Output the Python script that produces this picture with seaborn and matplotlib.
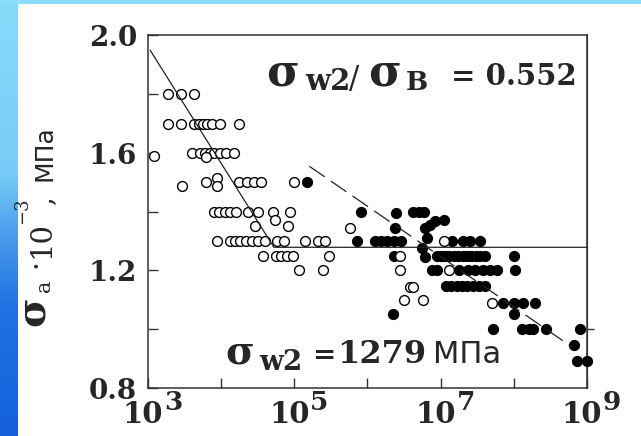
import numpy as np
import pandas as pd
import matplotlib
matplotlib.use("Agg")
import matplotlib.pyplot as plt
from matplotlib.transforms import ScaledTranslation
import seaborn as sns

# ---- data: fatigue tests, cycles to failure N vs. stress amplitude (x10^3 MPa)
open_n = [1.9e3, 2.8e3, 4.2e3,
          1.9e3, 2.8e3, 4.2e3, 5.0e3, 5.6e3, 6.5e3, 7.6e3, 9.5e3, 1.75e4,
          1.2e3,
          4.0e3, 5.1e3, 6.0e3, 7.1e3, 8.1e3, 9.5e3, 1.17e4, 1.5e4,
          6.3e3,
          6.3e3, 1.75e4, 2.25e4, 2.8e4, 3.55e4, 1.0e5,
          8.7e3,
          2.95e3, 8.7e3,
          7.9e3, 9.3e3, 1.12e4, 1.3e4, 1.6e4, 2.3e4, 3.2e4, 5.1e4, 8.7e4,
          5.4e4,
          2.9e4, 8.1e4,
          5.8e5,
          8.9e3, 1.3e4, 1.55e4, 1.8e4, 2.2e4, 2.6e4, 3.2e4, 4.0e4, 5.8e4, 7.2e4,
          1.4e5, 2.1e5, 2.6e5,
          1.1e7,
          3.7e4, 5.6e4, 6.6e4, 7.9e4, 9.5e4, 3.0e5, 2.75e6,
          1.17e5, 2.5e5, 2.75e6, 1.3e7,
          3.8e6, 4.2e6,
          3.2e6, 5.8e6,
          5.1e7]
open_s = [1.80, 1.80, 1.80,
          1.70, 1.70, 1.70, 1.70, 1.70, 1.70, 1.70, 1.70, 1.70,
          1.59,
          1.60, 1.60, 1.60, 1.60, 1.60, 1.60, 1.60, 1.60,
          1.585,
          1.50, 1.50, 1.50, 1.50, 1.50, 1.50,
          1.515,
          1.486, 1.486,
          1.40, 1.40, 1.40, 1.40, 1.40, 1.40, 1.40, 1.40, 1.40,
          1.372,
          1.35, 1.35,
          1.345,
          1.30, 1.30, 1.30, 1.30, 1.30, 1.30, 1.30, 1.30, 1.30, 1.30,
          1.30, 1.30, 1.30,
          1.30,
          1.25, 1.25, 1.25, 1.25, 1.25, 1.25, 1.25,
          1.20, 1.20, 1.20, 1.20,
          1.145, 1.145,
          1.10, 1.10,
          1.09]

filled_n = [1.5e5,
            8.1e5, 2.45e6, 4.2e6, 5.0e6, 6.0e6,
            2.35e6, 6.2e6, 7.2e6, 8.3e6, 1.1e7,
            6.5e6,
            7.1e5, 1.26e6, 1.51e6, 1.82e6, 2.3e6, 2.9e6, 1.45e7, 2.0e7, 2.5e7, 3.5e7,
            5.5e6, 6.2e6,
            2.3e6, 8.9e6, 1.0e7, 1.15e7, 1.3e7, 1.5e7, 1.75e7, 2.0e7, 2.3e7, 2.6e7,
            3.0e7, 3.5e7, 4.0e7, 1.0e8,
            7.6e6, 8.9e6, 1.8e7, 2.4e7, 2.95e7, 3.8e7, 4.7e7, 5.8e7, 1.05e8,
            1.2e7, 1.4e7, 1.65e7, 1.95e7, 2.3e7, 2.75e7, 3.3e7, 4.0e7,
            7.2e7, 1.0e8, 1.35e8, 1.95e8,
            2.25e6, 1.0e8,
            5.2e7, 1.3e8, 1.6e8, 1.85e8, 2.75e8, 8.1e8,
            6.6e8,
            7.4e8, 1.0e9]
filled_s = [1.50,
            1.40, 1.395, 1.40, 1.40, 1.40,
            1.345, 1.345, 1.355, 1.367, 1.372,
            1.31,
            1.30, 1.30, 1.30, 1.30, 1.30, 1.30, 1.30, 1.30, 1.30, 1.30,
            1.278, 1.245,
            1.25, 1.25, 1.25, 1.25, 1.25, 1.25, 1.25, 1.25, 1.25, 1.25,
            1.25, 1.25, 1.25, 1.25,
            1.20, 1.20, 1.20, 1.20, 1.20, 1.20, 1.20, 1.20, 1.20,
            1.146, 1.146, 1.146, 1.146, 1.146, 1.146, 1.146, 1.146,
            1.09, 1.09, 1.09, 1.09,
            1.053, 1.053,
            1.00, 1.00, 1.00, 1.00, 1.00, 1.00,
            0.948,
            0.893, 0.893]

# fitted S-N branches
low_cycle_n = [1.07e3, 5.25e4, 1.0e9]
low_cycle_s = [1.95, 1.279, 1.279]
high_cycle_n = [1.6e5, 6.2e8]
high_cycle_s = [1.555, 0.94]

x_ticks = [1e3, 1e4, 1e5, 1e6, 1e7, 1e8, 1e9]
x_tick_base = ["10", "", "10", "", "10", "", "10"]
x_tick_exp = ["3", "", "5", "", "7", "", "9"]
y_ticks = [0.8, 1.0, 1.2, 1.4, 1.6, 1.8, 2.0]
y_tick_labels = ["0.8", "", "1.2", "", "1.6", "", "2.0"]

ratio_text = "= 0.552"
limit_value = "1279"
unit_text = "МПа"

W, H = 641, 436
sns.set_style("ticks")
plt.rcParams["font.family"] = ["DejaVu Serif", "DejaVu Sans"]

fig = plt.figure(figsize=(W / 100, H / 100), dpi=100)

# decorative blue frame on the left and top edges
bg = fig.add_axes([0, 0, 1, 1], zorder=-10)
bg.axis("off")
img = np.ones((H, W, 3))
t = np.linspace(0, 1, H)
stops_t = [0.0, 0.40, 0.55, 0.70, 1.0]
stops_c = np.array([[0.53, 0.86, 0.98], [0.47, 0.80, 0.97], [0.28, 0.60, 0.92],
                    [0.12, 0.45, 0.89], [0.08, 0.38, 0.86]])
grad = np.stack([np.interp(t, stops_t, stops_c[:, k]) for k in range(3)], axis=1)
img[:, :18, :] = grad[:, None, :]
img[:5, :, :] = np.array([0.55, 0.87, 0.98])
bg.imshow(img, aspect="auto", extent=(0, 1, 0, 1), interpolation="bilinear")
bg.set_xlim(0, 1)
bg.set_ylim(0, 1)

ax = fig.add_axes([148 / W, 1 - 388 / H, (587 - 148) / W, (388 - 35.5) / H])
ax.set_facecolor("white")

df_open = pd.DataFrame({"N": open_n, "S": open_s})
df_filled = pd.DataFrame({"N": filled_n, "S": filled_s})
df_low = pd.DataFrame({"N": low_cycle_n, "S": low_cycle_s})
df_high = pd.DataFrame({"N": high_cycle_n, "S": high_cycle_s})

sns.scatterplot(data=df_filled, x="N", y="S", ax=ax, s=50, color="black",
                edgecolor="black", linewidth=1.0, zorder=3, clip_on=False)
sns.scatterplot(data=df_open, x="N", y="S", ax=ax, s=50, facecolor="white",
                edgecolor="black", linewidth=1.0, zorder=4, clip_on=False)
sns.lineplot(data=df_low, x="N", y="S", ax=ax, color="#222222", linewidth=0.9,
             errorbar=None, sort=False, zorder=5)
sns.lineplot(data=df_high, x="N", y="S", ax=ax, color="#222222", linewidth=0.9,
             errorbar=None, sort=False, zorder=5)
ax.lines[-1].set_dashes((15, 6))

ax.set_xscale("log")
ax.set_xlim(1e3, 1e9)
ax.set_ylim(0.8, 2.0)
ax.set_xlabel("")
ax.set_ylabel("")

ax.set_xticks(x_ticks)
ax.set_xticklabels(x_tick_base)
ax.xaxis.set_minor_locator(matplotlib.ticker.NullLocator())
ax.set_yticks(y_ticks)
ax.set_yticklabels(y_tick_labels)
ax.tick_params(axis="both", direction="in", length=7, width=1.0, color="#333333")
ax.tick_params(axis="x", pad=8.5, labelsize=21)
ax.tick_params(axis="y", pad=8, labelsize=20)
for lbl in ax.get_xticklabels() + ax.get_yticklabels():
    lbl.set_fontweight("bold")
    lbl.set_fontfamily("DejaVu Serif")
for lbl in ax.get_xticklabels():
    lbl.set_transform(lbl.get_transform() + ScaledTranslation(-0.05, 0, fig.dpi_scale_trans))
for tick, e in zip(x_ticks, x_tick_exp):
    if e:
        ax.annotate(e, xy=(tick, 0), xycoords=("data", "axes fraction"),
                    xytext=(11.5, -16), textcoords="offset points",
                    ha="left", va="baseline", fontsize=19, fontweight="bold",
                    family="DejaVu Serif", annotation_clip=False)

for sp in ax.spines.values():
    sp.set_visible(True)
    sp.set_linewidth(1.1)
    sp.set_color("#333333")

sec = ax.secondary_yaxis("right")
sec.set_yticks([1.0])
sec.tick_params(direction="out", length=5, width=1.0, color="#333333", labelright=False)


def put(x, y, s, size, weight="normal", family="DejaVu Serif", rot=0, ha="left"):
    fig.text(x / W, 1 - y / H, s, fontsize=size, fontweight=weight, family=family,
             rotation=rot, ha=ha, va="baseline", rotation_mode="anchor")


# endurance ratio
put(283, 85, "σ", 32, "bold", ha="center")
put(305, 90, "w2", 21, "bold")
put(349, 88, "/", 22)
put(385, 85, "σ", 32, "bold", ha="center")
put(406, 90, "B", 19, "bold")
put(577, 85, ratio_text, 21, "bold", ha="right")

# endurance limit
put(240, 363, "σ", 28, "bold", ha="center")
put(259, 370, "w2", 20, "bold")
put(313, 363, "=", 20, "bold")
put(337, 363, limit_value, 23, "bold")
put(433, 363, unit_text, 22, family="DejaVu Sans")

# vertical axis title
put(44, 311, "σ", 29, "bold", rot=90, ha="center")
put(50, 292, "a", 15, rot=90)
put(44, 268, "·", 20, rot=90)
put(49, 258, "10", 21, rot=90)
put(27, 224, "−3", 13, rot=90)
put(51, 204, ",", 20, rot=90)
put(52, 181, unit_text, 18, family="DejaVu Sans", rot=90)

fig.savefig("out.png", dpi=100, facecolor="white")
